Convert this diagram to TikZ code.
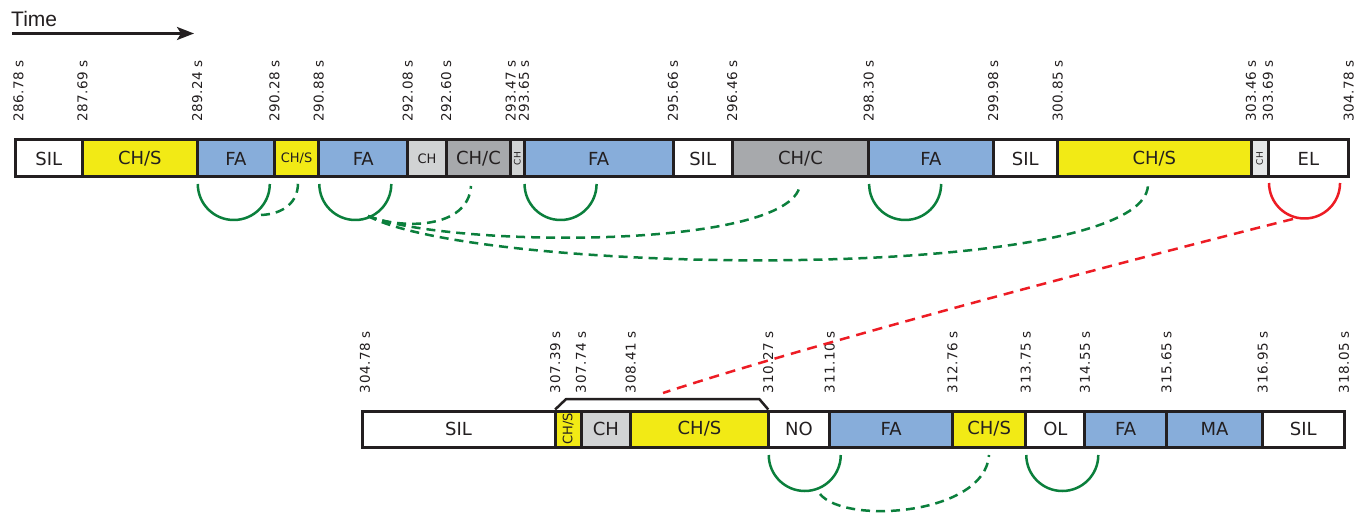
\documentclass[tikz,border=0pt]{standalone}
\usepackage{fontspec}
\usepackage{graphicx}
\setmainfont{DejaVu Sans}
\newfontfamily\timefont{Liberation Sans}
\newfontfamily\tickfont[LetterSpace=4]{DejaVu Sans}
\usetikzlibrary{arrows.meta,calc}

\definecolor{ink}{HTML}{231F20}
\definecolor{segyellow}{HTML}{F2EA15}
\definecolor{segblue}{HTML}{87ADDA}
\definecolor{seglight}{HTML}{D1D3D4}
\definecolor{segpale}{HTML}{E6E7E8}
\definecolor{segdark}{HTML}{A7A9AC}
\definecolor{linkgreen}{HTML}{0B7F3C}
\definecolor{linkred}{HTML}{ED1C24}

\newcommand\smallseg{\fontsize{13}{15}\selectfont}
\newcommand\tinyseg{\fontsize{9}{10}\selectfont}

% one labelled interval of the upper timeline (times in seconds)
\newcommand\topseg[5]{%
  \pgfmathsetmacro\segxa{15+(#2-286.78)*74.1}%
  \pgfmathsetmacro\segxb{15+(#3-286.78)*74.1}%
  \pgfmathsetmacro\segw{\segxb-\segxa}%
  \node[seg, fill=#4, minimum width=\segw pt, minimum height=37pt] (#1) at (\segxa,140) {#5};}
% one labelled interval of the lower timeline
\newcommand\botseg[5]{%
  \pgfmathsetmacro\segxa{362+(#2-304.78)*74}%
  \pgfmathsetmacro\segxb{362+(#3-304.78)*74}%
  \pgfmathsetmacro\segw{\segxb-\segxa}%
  \node[seg, fill=#4, minimum width=\segw pt, minimum height=36pt] (#1) at (\segxa,411) {#5};}

\begin{document}
\begin{tikzpicture}[x=1pt,y=-1pt,
  seg/.style={draw=ink, line width=3pt, inner sep=0pt, outer sep=0pt, anchor=north west,
    text=ink, font=\fontsize{18}{21}\selectfont},
  tick/.style={rotate=90, anchor=west, inner sep=0pt, outer sep=0pt, text=ink,
    font=\tickfont\fontsize{13.5}{15}\selectfont},
  loopline/.style={line width=2.5pt},
  link/.style={line width=2.5pt, dash pattern=on 9pt off 6pt},
]
\fill[white] (0,0) rectangle (1367,518);
\useasboundingbox (0,0) rectangle (1367,518);

% time direction
\node[anchor=base west, inner sep=0pt, font=\timefont\fontsize{21}{24}\selectfont, text=ink] (timelabel) at (11,26.5) {Time};
\coordinate (arrowtail) at (12,33.5);
\coordinate (arrowtip) at (194,33.5);
\draw[line width=2.5pt, ink, -{Stealth[length=17pt,width=13pt,inset=4pt]}] (arrowtail) -- (arrowtip);

% upper timeline
\topseg{t1}{286.78}{287.69}{white}{SIL}
\topseg{t2}{287.69}{289.24}{segyellow}{CH/S}
\topseg{t3}{289.24}{290.28}{segblue}{FA}
\topseg{t4}{290.28}{290.88}{segyellow}{\smallseg CH/S}
\topseg{t5}{290.88}{292.08}{segblue}{FA}
\topseg{t6}{292.08}{292.60}{seglight}{\smallseg CH}
\topseg{t7}{292.60}{293.47}{segdark}{CH/C}
\topseg{t8}{293.47}{293.65}{seglight}{\rotatebox{90}{\tinyseg CH}}
\topseg{t9}{293.65}{295.66}{segblue}{FA}
\topseg{t10}{295.66}{296.46}{white}{SIL}
\topseg{t11}{296.46}{298.30}{segdark}{CH/C}
\topseg{t12}{298.30}{299.98}{segblue}{FA}
\topseg{t13}{299.98}{300.85}{white}{SIL}
\topseg{t14}{300.85}{303.46}{segyellow}{CH/S}
\topseg{t15}{303.46}{303.69}{segpale}{\rotatebox{90}{\tinyseg CH}}
\topseg{t16}{303.69}{304.78}{white}{EL}

\node[tick] (tt0) at (18.5,122) {286.78 s};
\foreach \tm [count=\i] in {287.69,289.24,290.28,290.88,292.08,292.60,293.47,293.65,295.66,296.46,298.30,299.98,300.85,303.46,303.69,304.78}
  \node[tick] (tt\i) at ({15+(\tm-286.78)*74.1},122) {\tm\ s};

% lower timeline
\botseg{b1}{304.78}{307.39}{white}{SIL}
\botseg{b2}{307.39}{307.74}{segyellow}{\rotatebox{90}{\smallseg CH/S}}
\botseg{b3}{307.74}{308.41}{seglight}{CH}
\botseg{b4}{308.41}{310.27}{segyellow}{CH/S}
\botseg{b5}{310.27}{311.10}{white}{NO}
\botseg{b6}{311.10}{312.76}{segblue}{FA}
\botseg{b7}{312.76}{313.75}{segyellow}{CH/S}
\botseg{b8}{313.75}{314.55}{white}{OL}
\botseg{b9}{314.55}{315.65}{segblue}{FA}
\botseg{b10}{315.65}{316.95}{segblue}{MA}
\botseg{b11}{316.95}{318.05}{white}{SIL}

\node[tick] (bt0) at (365,393) {304.78 s};
\foreach \tm [count=\i] in {307.39,307.74,308.41,310.27,311.10,312.76,313.75,314.55,315.65,316.95,318.05}
  \node[tick] (bt\i) at ({362+(\tm-304.78)*74},393) {\tm\ s};

% bracket over the grouped intervals
\draw[line width=2.5pt, ink, line join=round]
  ($(b2.north west)+(0,-1.5)$) -- ++(11,-10.5) -- ($(b4.north east)+(-9,-12)$) -- ($(b4.north east)+(0,-1.5)$);

% self loops under the intervals
\draw[loopline, linkgreen] ($(t3.south west)+(0.5,7)$) arc[start angle=180, end angle=360, radius=36pt];
\draw[loopline, linkgreen] ($(t5.south west)+(0.5,7)$) arc[start angle=180, end angle=360, radius=36pt];
\draw[loopline, linkgreen] ($(t9.south west)+(0.5,7)$) arc[start angle=180, end angle=360, radius=36pt];
\draw[loopline, linkgreen] ($(t12.south west)+(0.5,7)$) arc[start angle=180, end angle=360, radius=36pt];
\draw[loopline, linkred] ($(t16.south west)+(1,6)$) arc[start angle=180, end angle=360, radius=35.5pt];
\draw[loopline, linkgreen] ($(b5.south west)+(0.5,8)$) arc[start angle=180, end angle=360, radius=36pt];
\draw[loopline, linkgreen] ($(b8.south west)+(0.5,8)$) arc[start angle=180, end angle=360, radius=36pt];

% links between intervals
\coordinate (faA) at (261,215);
\coordinate (faB) at (368,216);
\coordinate (noFoot) at (820,494);
\coordinate (elFoot) at (1293,219);
\coordinate (chsA) at (298,183);
\coordinate (chcA) at (471,186);
\coordinate (chcB) at (800,185);
\coordinate (chsB) at (1148,184);
\coordinate (chsC) at (989,455);
\coordinate (groupTop) at (663,393);

\draw[link, linkgreen] (faA) .. controls (284,214) and (298,202) .. (chsA);
\draw[link, linkgreen] (faB) .. controls (400,229) and (468,230) .. (chcA);
\draw[link, linkgreen] (faB) .. controls (450,248) and (790,250) .. (chcB);
\draw[link, linkgreen] (faB) .. controls (480,276) and (1150,284) .. (chsB);
\draw[link, linkgreen] (noFoot) .. controls (845,525) and (985,515) .. (chsC);
\draw[link, linkred, dash pattern=on 10pt off 7pt] (elFoot) .. controls (1143,256.5) and (813,343.5) .. (groupTop);
\end{tikzpicture}
\end{document}
